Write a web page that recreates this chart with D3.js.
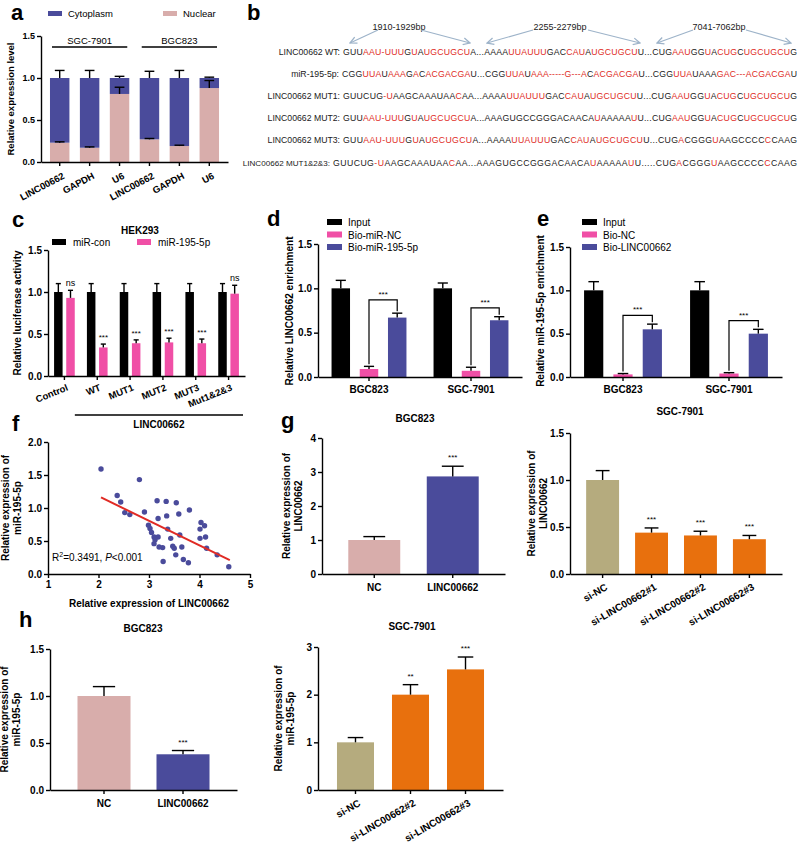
<!DOCTYPE html>
<html><head><meta charset="utf-8">
<script src="https://cdn.jsdelivr.net/npm/d3@7"></script>
<style>body{margin:0;background:#fff}svg{display:block}text{font-family:Arial,"Liberation Sans",sans-serif}</style>
</head><body>
<svg id="fig" width="800" height="843"></svg>
<script>
// ================= DATA =================
// Panel a
const aCategories = ["LINC00662","GAPDH","U6","LINC00662","GAPDH","U6"];
const aGroupLabels = ["SGC-7901","BGC823"];
const aSeries = ["Cytoplasm","Nuclear"];
const aNuclear = [0.23,0.17,0.81,0.27,0.19,0.88];
const aNuclearErr = [0.01,0.01,0.08,0.01,0.01,0.09];
const aCytoplasm = [0.77,0.83,0.19,0.73,0.81,0.12];
const aCytoplasmErr = [0.09,0.09,0.02,0.08,0.09,0.01];
const ticks15 = [0,0.5,1.0,1.5];

// Panel b
const bLabels = ["LINC00662 WT:","miR-195-5p:","LINC00662 MUT1:","LINC00662 MUT2:","LINC00662 MUT3:","LINC00662 MUT1&2&3:"];
const bSequences = [
 "GUU[AAU-UUU]G[U]A[UGCUGCU]A...AAAA[UUAUUU]GAC[CAU]A[UGCUGCU]U...CUG[AAU]GG[U]A[CUG]C[UGCUGCU]G",
 "CGG[UUA]U[AAA]G[A]C[ACGACGA]U...CGG[UUA]U[AAA-----G---A]C[ACGACGA]U...CGG[UUA]UAAA[GAC---ACGACGA]U",
 "GUUCUG[-U]AAGCAAAUAA[C]AA...AAAA[UUAUUU]GAC[CAU]A[UGCUGCU]U...CUG[AAU]GG[U]A[CUG]C[UGCUGCU]G",
 "GUU[AAU-UUU]G[U]A[UGCUGCU]A...AAAGUGCCGGGACAACA[U]AAAAA[U]U...CUG[AAU]GG[U]A[CUG]C[UGCUGCU]G",
 "GUU[AAU-UUU]G[U]A[UGCUGCU]A...AAAA[UUAUUU]GAC[CAU]A[UGCUGCU]U...CUG[A]CGGG[U]AAGCCCC[C]CAAG",
 "GUUCUG[-U]AAGCAAAUAA[C]AA...AAAGUGCCGGGACAACA[U]AAAAA[U]U.....CUG[A]CGGG[U]AAGCCCC[C]CAAG"
];
const bSites = ["1910-1929bp","2255-2279bp","7041-7062bp"];

// Panel c
const cCategories = ["Control","WT","MUT1","MUT2","MUT3","Mut1&2&3"];
const cSeries = ["miR-con","miR-195-5p"];
const cCon = [1.0,1.0,1.0,1.0,1.0,1.0];
const cConErr = [0.1,0.1,0.1,0.1,0.1,0.1];
const cMir = [0.93,0.34,0.39,0.40,0.39,0.98];
const cMirErr = [0.09,0.04,0.04,0.05,0.05,0.1];
const cSig = ["ns","***","***","***","***","ns"];
const cGroupLabel = "LINC00662";

// Panel d
const dCategories = ["BGC823","SGC-7901"];
const dSeries = ["Input","Bio-miR-NC","Bio-miR-195-5p"];
const dValues = [[1.0,1.0],[0.09,0.07],[0.67,0.64]];
const dErrors = [[0.09,0.06],[0.03,0.04],[0.05,0.04]];

// Panel e
const eCategories = ["BGC823","SGC-7901"];
const eSeries = ["Input","Bio-NC","Bio-LINC00662"];
const eValues = [[1.0,1.0],[0.03,0.04],[0.55,0.50]];
const eErrors = [[0.1,0.1],[0.01,0.01],[0.06,0.05]];

// Panel f
const fX = [2.05,2.81,2.37,2.44,2.52,2.62,2.91,3.16,3.34,3.54,3.80,3.59,3.35,3.18,2.99,3.02,3.37,4.03,4.10,4.01,3.61,3.05,3.10,3.18,3.43,4.01,4.12,3.12,3.10,3.27,3.20,3.28,3.47,3.50,3.53,3.65,3.68,3.78,4.14,4.35,4.58];
const fY = [1.59,1.43,1.19,1.09,0.93,0.90,0.94,1.11,1.10,1.08,0.97,0.91,0.88,0.84,0.74,0.69,0.68,0.78,0.73,0.68,0.59,0.63,0.56,0.56,0.54,0.54,0.56,0.52,0.46,0.40,0.41,0.19,0.42,0.39,0.29,0.41,0.22,0.17,0.39,0.29,0.11];
const fFitX = [2.05,4.60];
const fFitY = [1.16,0.21];
const fXTicks = [1,2,3,4,5];
const fYTicks = [0,0.5,1.0,1.5,2.0];

// Panel g
const gLeftCats = ["NC","LINC00662"];
const gLeftVals = [1.0,2.87];
const gLeftErr = [0.1,0.3];
const gLeftSig = ["","***"];
const gRightCats = ["si-NC","si-LINC00662#1","si-LINC00662#2","si-LINC00662#3"];
const gRightVals = [1.0,0.44,0.41,0.37];
const gRightErr = [0.1,0.05,0.045,0.04];
const gRightSig = ["","***","***","***"];

// Panel h
const hLeftCats = ["NC","LINC00662"];
const hLeftVals = [1.0,0.38];
const hLeftErr = [0.1,0.04];
const hLeftSig = ["","***"];
const hRightCats = ["si-NC","si-LINC00662#2","si-LINC00662#3"];
const hRightVals = [1.0,2.0,2.53];
const hRightErr = [0.1,0.21,0.26];
const hRightSig = ["","**","***"];

// ================= DRAWING =================
const svg = d3.select("#fig");
const FONT = "Arial, 'Liberation Sans', sans-serif";
const BLUE = "#4a4b9b", PINK = "#d8adab", HOT = "#f04fa6", KHAKI = "#b5ab7e", ORANGE = "#e8700d", RED = "#e02b25";

function panelLabel(t,x,y){ svg.append("text").attr("x",x).attr("y",y).attr("font-size",22).attr("font-weight","bold").attr("fill","#000").text(t); }
function styleAxis(ax, fs){
  ax.attr("font-family",FONT);
  ax.select(".domain").attr("stroke","#000").attr("stroke-width",1.4);
  ax.selectAll(".tick line").attr("stroke","#000").attr("stroke-width",1.4);
  ax.selectAll(".tick text").attr("font-size",fs).attr("font-weight","bold").attr("fill","#000");
}
function yAxis(x0, y, ticks, fmt, fs){
  const ax = svg.append("g").attr("transform",`translate(${x0},0)`)
    .call(d3.axisLeft(y).tickValues(ticks).tickFormat(fmt).tickSize(4).tickSizeOuter(0).tickPadding(2));
  styleAxis(ax, fs); return ax;
}
function xAxis(y0, x, fmt, fs, pad, tv){
  const a = d3.axisBottom(x).tickFormat(fmt).tickSize(4).tickSizeOuter(0).tickPadding(pad==null?3:pad);
  if(tv) a.tickValues(tv);
  const ax = svg.append("g").attr("transform",`translate(0,${y0})`).call(a);
  styleAxis(ax, fs); return ax;
}
function rotateLabels(ax, angle, dx, dy){
  ax.selectAll(".tick text").attr("text-anchor","end").attr("y",0).attr("dy","0.35em")
    .attr("transform",`translate(${dx},${dy}) rotate(${angle})`);
}
function yTitle(lines, x, yc, fs, lh){
  lines.forEach((l,i)=>{
    svg.append("text").attr("transform",`translate(${x+i*lh},${yc}) rotate(-90)`)
      .attr("text-anchor","middle").attr("font-size",fs).attr("font-weight","bold").attr("fill","#000").text(l);
  });
}
function errBar(cx, yScale, v, e, capW){
  const g = svg.append("g").attr("stroke","#000").attr("stroke-width",1.4);
  g.append("line").attr("x1",cx).attr("x2",cx).attr("y1",yScale(v)).attr("y2",yScale(v+e));
  g.append("line").attr("x1",cx-capW/2).attr("x2",cx+capW/2).attr("y1",yScale(v+e)).attr("y2",yScale(v+e));
}
function sigText(cx, yPix, t, fs){
  if(!t) return;
  svg.append("text").attr("x",cx).attr("y",yPix).attr("text-anchor","middle").attr("font-size",fs||8).attr("fill","#000").text(t);
}
function centerTitle(t,x,y,fs){ svg.append("text").attr("x",x).attr("y",y).attr("text-anchor","middle").attr("font-size",fs||10).attr("font-weight","bold").attr("fill","#000").text(t); }

// ---------- Panel a ----------
panelLabel("a",11,20);
{
  const y = d3.scaleLinear().domain([0,1.5]).range([162,36]);
  const x = d3.scaleBand().domain(d3.range(aCategories.length)).range([41,228]).paddingInner(0.35).paddingOuter(0.3);
  const rows = aCategories.map((c,i)=>({i, Nuclear:aNuclear[i], Cytoplasm:aCytoplasm[i]}));
  const stack = d3.stack().keys(["Nuclear","Cytoplasm"])(rows);
  const col = {Nuclear:PINK, Cytoplasm:BLUE};
  stack.forEach(layer=>{
    svg.append("g").selectAll("rect").data(layer).join("rect")
      .attr("x",d=>x(d.data.i)).attr("width",x.bandwidth())
      .attr("y",d=>y(d[1])).attr("height",d=>y(d[0])-y(d[1])).attr("fill",col[layer.key]);
  });
  aCategories.forEach((c,i)=>{
    const cx = x(i)+x.bandwidth()/2;
    errBar(cx, y, aNuclear[i], aNuclearErr[i], x.bandwidth()*0.5);
    errBar(cx, y, aNuclear[i]+aCytoplasm[i], aCytoplasmErr[i], x.bandwidth()*0.5);
  });
  yAxis(41, y, ticks15, d3.format(".1f"), 9);
  const ax = xAxis(162, x, i=>aCategories[i], 9.5);
  rotateLabels(ax, -28, 4, 13);
  yTitle(["Relative expression level"], 14, 99, 9.5, 0);
  const grp = [[0,2],[3,5]];
  grp.forEach((g,k)=>{
    const x1 = x(g[0])+2, x2 = x(g[1])+x.bandwidth()-2;
    svg.append("line").attr("x1",x1).attr("x2",x2).attr("y1",47).attr("y2",47).attr("stroke","#000").attr("stroke-width",1.3);
    svg.append("text").attr("x",(x1+x2)/2).attr("y",44).attr("text-anchor","middle").attr("font-size",9.5).attr("fill","#000").text(aGroupLabels[k]);
  });
  const lg = [{k:aSeries[0],c:BLUE,x:48},{k:aSeries[1],c:PINK,x:163}];
  lg.forEach(l=>{
    svg.append("rect").attr("x",l.x).attr("y",11).attr("width",14).attr("height",5).attr("fill",l.c);
    svg.append("text").attr("x",l.x+20).attr("y",17).attr("font-size",9.5).attr("fill","#000").text(l.k);
  });
}

// ---------- Panel b ----------
panelLabel("b",247,20);
{
  const rowY = [55,77,99,121,143,166];
  const seqStart = [343,342,343,343,343,333];
  const labelFs = [8.7,8.7,8.7,8.7,8.7,8.1];
  const seqEnd = 797;
  bLabels.forEach((lab,i)=>{
    svg.append("text").attr("x",seqStart[i]-3).attr("y",rowY[i]).attr("text-anchor","end").attr("font-size",labelFs[i]).attr("fill","#1a1a1a").text(lab);
    const t = svg.append("text").attr("x",seqStart[i]).attr("y",rowY[i]).attr("font-size",8.7).attr("fill","#1a1a1a");
    const re = /\[([^\]]+)\]|([^\[]+)/g; let m; let n = 0;
    while((m = re.exec(bSequences[i]))!==null){
      const s = m[1]||m[2]; n += s.length;
      t.append("tspan").attr("fill",m[1]?RED:"#1a1a1a").text(s);
    }
    const w = t.node().getComputedTextLength();
    const ls = (seqEnd - seqStart[i] - w)/(n-1);
    t.attr("letter-spacing", ls.toFixed(3));
  });
  const defs = svg.append("defs");
  defs.append("marker").attr("id","arr").attr("viewBox","0 0 10 10").attr("refX",9).attr("refY",5)
    .attr("markerWidth",7).attr("markerHeight",7).attr("orient","auto-start-reverse")
    .append("path").attr("d","M1,1 L9,5 L1,9").attr("fill","none").attr("stroke","#9db3c9").attr("stroke-width",1.5);
  const siteCx = [399,560,719];
  const arrows = [[[378,30,350,43],[421,30,470,43]],[[533,30,487,43],[588,30,640,43]],[[693,30,657,43],[746,30,791,43]]];
  bSites.forEach((s,i)=>{
    svg.append("text").attr("x",siteCx[i]).attr("y",30).attr("text-anchor","middle").attr("font-size",9).attr("fill","#1a1a1a").text(s);
    arrows[i].forEach(a=>{
      svg.append("line").attr("x1",a[0]).attr("y1",a[1]).attr("x2",a[2]).attr("y2",a[3])
        .attr("stroke","#9db3c9").attr("stroke-width",1.2).attr("marker-end","url(#arr)");
    });
  });
}

// ---------- Panel c ----------
panelLabel("c",12,227);
{
  const y = d3.scaleLinear().domain([0,1.5]).range([376,250]);
  const x = d3.scaleBand().domain(cCategories).range([48,245]);
  const xs = d3.scaleBand().domain(cSeries).range([0,x.bandwidth()]).paddingInner(0.3).paddingOuter(0.5);
  const bw = xs.bandwidth();
  const series = [{k:cSeries[0],v:cCon,e:cConErr,c:"#000"},{k:cSeries[1],v:cMir,e:cMirErr,c:HOT}];
  series.forEach(s=>{
    svg.append("g").selectAll("rect").data(cCategories).join("rect")
      .attr("x",d=>x(d)+xs(s.k)).attr("width",bw)
      .attr("y",(d,i)=>y(s.v[i])).attr("height",(d,i)=>y(0)-y(s.v[i])).attr("fill",s.c);
    cCategories.forEach((d,i)=>errBar(x(d)+xs(s.k)+bw/2, y, s.v[i], s.e[i], bw*0.6));
  });
  cCategories.forEach((d,i)=>{
    const cx = x(d)+xs(cSeries[1])+bw/2;
    const yy = y(cMir[i]+cMirErr[i]) - 4;
    sigText(cx, yy, cSig[i], cSig[i]==="ns"?9:8);
  });
  yAxis(48, y, ticks15, d3.format(".1f"), 10);
  const ax = xAxis(376, x, d=>d, 9.5);
  rotateLabels(ax, -22, 3, 11);
  yTitle(["Relative luciferase activity"], 21, 313, 10, 0);
  centerTitle("HEK293",140,234,10);
  const lg = [{k:cSeries[0],c:"#000",x:52},{k:cSeries[1],c:HOT,x:137}];
  lg.forEach(l=>{
    svg.append("rect").attr("x",l.x).attr("y",239).attr("width",14).attr("height",6).attr("fill",l.c);
    svg.append("text").attr("x",l.x+21).attr("y",246).attr("font-size",10).attr("fill","#000").text(l.k);
  });
  const x1 = x(cCategories[1])-6, x2 = 243;
  svg.append("line").attr("x1",x1).attr("x2",x2).attr("y1",415).attr("y2",415).attr("stroke","#000").attr("stroke-width",1.3);
  centerTitle(cGroupLabel,(x1+x2)/2,428,10);
}

// ---------- Panels d & e ----------
function groupedPull(opt){
  const y = d3.scaleLinear().domain([0,1.5]).range([377,opt.yTop]);
  const x = d3.scaleBand().domain(opt.cats).range([opt.x0,opt.x1]);
  const xs = d3.scaleBand().domain(opt.series).range([0,x.bandwidth()]).paddingInner(0.345).paddingOuter(0.48);
  const bw = xs.bandwidth();
  const cols = ["#000",HOT,BLUE];
  opt.series.forEach((s,k)=>{
    svg.append("g").selectAll("rect").data(opt.cats).join("rect")
      .attr("x",d=>x(d)+xs(s)).attr("width",bw)
      .attr("y",(d,i)=>y(opt.vals[k][i])).attr("height",(d,i)=>y(0)-y(opt.vals[k][i])).attr("fill",cols[k]);
    opt.cats.forEach((d,i)=>errBar(x(d)+xs(s)+bw/2, y, opt.vals[k][i], opt.errs[k][i], bw*0.55));
  });
  opt.cats.forEach((d,i)=>{
    const xa = x(d)+xs(opt.series[1])+bw/2, xb = x(d)+xs(opt.series[2])+bw/2;
    const yb = y(opt.bracket[i]);
    const ya = y(opt.vals[1][i]+opt.errs[1][i])-2, yc = y(opt.vals[2][i]+opt.errs[2][i])-2;
    svg.append("path").attr("d",`M${xa},${ya}V${yb}H${xb}V${yc}`).attr("fill","none").attr("stroke","#000").attr("stroke-width",1.2);
    sigText((xa+xb)/2, yb-3, "***", 8);
  });
  yAxis(opt.x0, y, ticks15, d3.format(".1f"), 10);
  xAxis(377, x, d=>d, 10, 5);
  yTitle([opt.yTitle], opt.yTitleX, 311, 10, 0);
  opt.series.forEach((s,k)=>{
    svg.append("rect").attr("x",opt.lx).attr("y",opt.ly+k*12.5-4).attr("width",15).attr("height",6).attr("fill",cols[k]);
    svg.append("text").attr("x",opt.lx+21).attr("y",opt.ly+k*12.5+3).attr("font-size",10).attr("fill","#000").text(s);
  });
}
panelLabel("d",267,226);
groupedPull({cats:dCategories, series:dSeries, vals:dValues, errs:dErrors, x0:318, x1:522, yTop:244,
  bracket:[0.87,0.78], yTitle:"Relative LINC00662 enrichment", yTitleX:293, lx:327, ly:223});
panelLabel("e",537,226);
groupedPull({cats:eCategories, series:eSeries, vals:eValues, errs:eErrors, x0:570, x1:782, yTop:247,
  bracket:[0.71,0.65], yTitle:"Relative miR-195-5p enrichment", yTitleX:544, lx:582, ly:223});

// ---------- Panel f ----------
panelLabel("f",12,431);
{
  const x = d3.scaleLinear().domain([1,5]).range([48,250]);
  const y = d3.scaleLinear().domain([0,2]).range([574,442]);
  svg.append("g").selectAll("circle").data(fX).join("circle")
    .attr("cx",d=>x(d)).attr("cy",(d,i)=>y(fY[i])).attr("r",2.7).attr("fill",BLUE);
  svg.append("line").attr("x1",x(fFitX[0])).attr("y1",y(fFitY[0])).attr("x2",x(fFitX[1])).attr("y2",y(fFitY[1]))
    .attr("stroke",RED).attr("stroke-width",2);
  yAxis(48, y, fYTicks, d3.format(".1f"), 10);
  xAxis(574, x, d3.format("d"), 10, 3, fXTicks);
  yTitle(["Relative expression of","miR-195-5p"], 9, 508, 10, 12);
  centerTitle("Relative expression of LINC00662",149,607,10);
  const t = svg.append("text").attr("x",52).attr("y",561).attr("font-size",10).attr("fill","#000");
  t.append("tspan").text("R");
  t.append("tspan").attr("font-size",7).attr("dy",-4).text("2");
  t.append("tspan").attr("dy",4).text("=0.3491, ");
  t.append("tspan").attr("font-style","italic").text("P");
  t.append("tspan").text("<0.001");
}

// ---------- simple bar panels ----------
function simpleBars(o){
  const y = d3.scaleLinear().domain([0,o.max]).range([o.y0,o.y1]);
  const x = d3.scaleBand().domain(o.cats).range([o.x0,o.x1]).paddingInner(o.pi).paddingOuter(o.po);
  const bw = x.bandwidth();
  svg.append("g").selectAll("rect").data(o.cats).join("rect")
    .attr("x",d=>x(d)).attr("width",bw).attr("y",(d,i)=>y(o.vals[i])).attr("height",(d,i)=>o.y0-y(o.vals[i]))
    .attr("fill",(d,i)=>o.colors[i]);
  o.cats.forEach((d,i)=>{
    errBar(x(d)+bw/2, y, o.vals[i], o.errs[i], bw*0.42);
    sigText(x(d)+bw/2, y(o.vals[i]+o.errs[i])-6, o.sig[i], 8);
  });
  yAxis(o.x0, y, o.ticks, o.fmt, 10);
  const ax = xAxis(o.y0, x, d=>d, 10, o.rot?3:6);
  if(o.rot) rotateLabels(ax, -30, 4, 12);
  yTitle(["Relative expression of", o.yLab], o.tx, (o.y0+o.y1)/2, 10, 11.5);
  centerTitle(o.title, o.titleX, o.titleY, 10);
}
panelLabel("g",281,428);
simpleBars({cats:gLeftCats, vals:gLeftVals, errs:gLeftErr, sig:gLeftSig, colors:[PINK,BLUE],
  x0:322, x1:505, y0:574, y1:438, max:4, ticks:[0,1,2,3,4], fmt:d3.format("d"), pi:0.338, po:0.335,
  yLab:"LINC00662", tx:290, title:"BGC823", titleX:415, titleY:422});
simpleBars({cats:gRightCats, vals:gRightVals, errs:gRightErr, sig:gRightSig, colors:[KHAKI,ORANGE,ORANGE,ORANGE],
  x0:570, x1:782, y0:574, y1:433, max:1.5, ticks:ticks15, fmt:d3.format(".1f"), pi:0.327, po:0.33, rot:true,
  yLab:"LINC00662", tx:535, title:"SGC-7901", titleX:680, titleY:415});
panelLabel("h",19,627);
simpleBars({cats:hLeftCats, vals:hLeftVals, errs:hLeftErr, sig:hLeftSig, colors:[PINK,BLUE],
  x0:50, x1:237, y0:790, y1:649, max:1.5, ticks:ticks15, fmt:d3.format(".1f"), pi:0.329, po:0.348,
  yLab:"miR-195-5p", tx:8, title:"BGC823", titleX:143, titleY:632});
simpleBars({cats:hRightCats, vals:hRightVals, errs:hRightErr, sig:hRightSig, colors:[KHAKI,ORANGE,ORANGE],
  x0:318, x1:503, y0:790, y1:647, max:3, ticks:[0,1,2,3], fmt:d3.format("d"), pi:0.327, po:0.345, rot:true,
  yLab:"miR-195-5p", tx:282, title:"SGC-7901", titleX:412, titleY:630});
</script>
</body></html>
